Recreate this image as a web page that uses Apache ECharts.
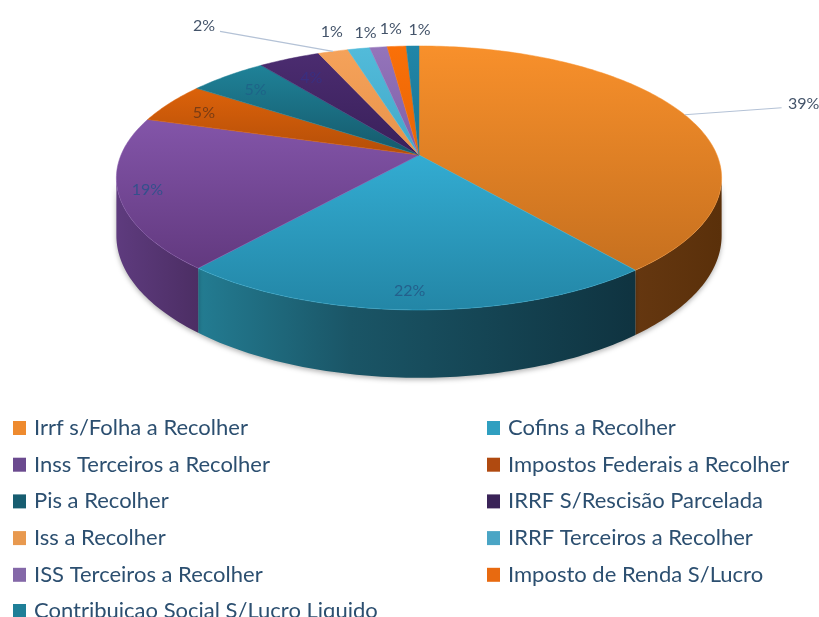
<!DOCTYPE html>
<html>
<head>
<meta charset="utf-8">
<style>
  html, body { margin: 0; padding: 0; background: #fff; }
  #main { width: 819px; height: 617px; }
</style>
<script src="https://cdn.jsdelivr.net/npm/echarts@6/dist/echarts.min.js"></script>
</head>
<body>
<div id="main"></div>
<script>
var categories = [
  'Irrf s/Folha a Recolher', 'Cofins a Recolher', 'Inss Terceiros a Recolher',
  'Impostos Federais a Recolher', 'Pis a Recolher', 'IRRF S/Rescisão Parcelada',
  'Iss a Recolher', 'IRRF Terceiros a Recolher', 'ISS Terceiros a Recolher',
  'Imposto de Renda S/Lucro', 'Contribuicao Social S/Lucro Liquido'
];
var values = [39.2, 21.9, 18.6, 5.0, 5.0, 3.9, 1.9, 1.4, 1.1, 1.2, 0.8];

// cor do topo (claro, escuro) e da lateral
var topLight = ['#f8902b', '#33acd2', '#8355a9', '#dc620a', '#1f8298', '#4b2c70', '#f5a25a', '#52bbda', '#9474ba', '#fa7008', '#2086a8'];
var topDark = ['#c6701f', '#2386a6', '#62397f', '#b44e08', '#15596b', '#39205a', '#e8934a', '#42a8c8', '#7f60a8', '#e86505', '#1a7492'];
var wallLeft = ['#653710', '#237c92', '#5e3b7e', '#7a3a08', '#134a58', '#2a1740', '#a8692f', '#2f7d94', '#5c4678', '#a04a05', '#155a70'];
var wallRight = ['#5a300a', '#0f3340', '#4c2e64', '#7a3a08', '#134a58', '#2a1740', '#a8692f', '#2f7d94', '#5c4678', '#a04a05', '#155a70'];
var legendColors = ['#ee8a2e', '#2f9fc0', '#6b4a8f', '#b04a10', '#175d70', '#3a2358', '#e8994f', '#4aa5c5', '#8468a8', '#e86a10', '#1f7f98'];

// posicao do rotulo em relacao ao ponto medio do arco da fatia
var labelOffset = [[119, -11], [-6, -19], [29, -4], [34, 10], [28, 14], [22, 19], [-129, -26], [-27, -17], [-13, -14], [-6, -17], [7, -16]];
var labelLine = [true, false, false, false, false, false, true, false, false, false, false];
var labelColor = ['#44546a', '#24608c', '#34508c', '#7a3c14', '#1e6488', '#3a2f80', '#44546a', '#44546a', '#44546a', '#44546a', '#44546a'];

// perspectiva da pizza
var cx = 419, cy = 155, radX = 298, radY = 128, persp = 0.174, drop = 56;
var total = values.reduce(function (a, b) { return a + b; }, 0);

function project(deg, r) {
  var t = deg * Math.PI / 180;
  var u = r * Math.sin(t), v = r * Math.cos(t);
  var w = 1 + persp * v;
  return [cx + radX * u / w, cy - radY * v / w, drop / w];
}

function arc(a0, a1) {
  var pts = [], n = Math.max(2, Math.ceil(a1 - a0));
  for (var i = 0; i <= n; i++) {
    pts.push(project(a0 + (a1 - a0) * i / n, 1));
  }
  return pts;
}

function grad(x2, y2, c0, c1) {
  return { type: 'linear', x: 0, y: 0, x2: x2, y2: y2, colorStops: [{ offset: 0, color: c0 }, { offset: 1, color: c1 }] };
}

function renderSlice(params, api) {
  var i = params.seriesIndex;
  var val = api.value(0);
  var before = 0;
  for (var k = 0; k < i; k++) before += values[k];
  var a0 = before / total * 360, a1 = (before + val) / total * 360;
  var children = [];

  // lateral, so a parte da frente aparece
  var w0 = Math.max(a0, 100), w1 = Math.min(a1, 260);
  if (w1 > w0) {
    var rim = arc(w0, w1);
    var wall = rim.map(function (p) { return [p[0], p[1]]; });
    for (var j = rim.length - 1; j >= 0; j--) wall.push([rim[j][0], rim[j][1] + rim[j][2]]);
    var fill = grad(1, 0, wallLeft[i], wallRight[i]);
    if (i === 1) {
      fill.colorStops = [{ offset: 0, color: wallLeft[i] }, { offset: 0.35, color: '#1a5566' }, { offset: 1, color: wallRight[i] }];
    }
    children.push({
      type: 'polygon', z2: 1, shape: { points: wall },
      style: { fill: fill, shadowBlur: 5, shadowColor: 'rgba(0,0,0,0.3)', shadowOffsetY: 2 }
    });
  }

  // topo
  var top = [[cx, cy]].concat(arc(a0, a1).map(function (p) { return [p[0], p[1]]; }));
  children.push({
    type: 'polygon', z2: 5, shape: { points: top },
    style: { fill: grad(0, 1, topLight[i], topDark[i]), stroke: topLight[i], lineWidth: 0.5 }
  });

  // rotulo
  var mid = project((a0 + a1) / 2, 1);
  var lx = mid[0] + labelOffset[i][0], ly = mid[1] + labelOffset[i][1];
  if (labelLine[i]) {
    var side = labelOffset[i][0] > 0 ? -22 : 16;
    children.push({
      type: 'line', z2: 20,
      shape: { x1: mid[0], y1: mid[1], x2: lx + side, y2: ly + (side > 0 ? 6 : 4) },
      style: { stroke: '#b4c2d6', lineWidth: 1.2 }
    });
  }
  children.push({
    type: 'text', z2: 30,
    style: {
      text: Math.round(val / total * 100) + '%', x: lx, y: ly,
      align: 'center', verticalAlign: 'middle',
      fill: labelColor[i], font: '16px Lato'
    }
  });
  return { type: 'group', children: children };
}

var seriesList = categories.map(function (name, i) {
  return {
    name: name,
    type: 'custom',
    coordinateSystem: 'none',
    silent: true,
    animation: false,
    itemStyle: { color: legendColors[i] },
    renderItem: renderSlice,
    data: [[values[i]]]
  };
});

function legendCol(left, top, names) {
  return {
    orient: 'vertical', left: left, top: top, padding: 0,
    itemWidth: 13, itemHeight: 14, itemGap: 14.7, icon: 'rect',
    selectedMode: false, data: names,
    textStyle: { fontFamily: 'Lato', fontSize: 22, lineHeight: 20, color: '#2c4f70', padding: [0, 0, 0, 3] }
  };
}

var chart = echarts.init(document.getElementById('main'), null, { renderer: 'canvas' });
chart.setOption({
  backgroundColor: '#ffffff',
  animation: false,
  // a ultima linha fica cortada na borda, por isso vai em legenda separada
  legend: [
    legendCol(13, 417, categories.slice(0, 10).filter(function (c, i) { return i % 2 === 0; })),
    legendCol(487, 417, categories.slice(0, 10).filter(function (c, i) { return i % 2 === 1; })),
    legendCol(13, 600, categories.slice(10))
  ],
  series: seriesList
});
</script>
</body>
</html>
